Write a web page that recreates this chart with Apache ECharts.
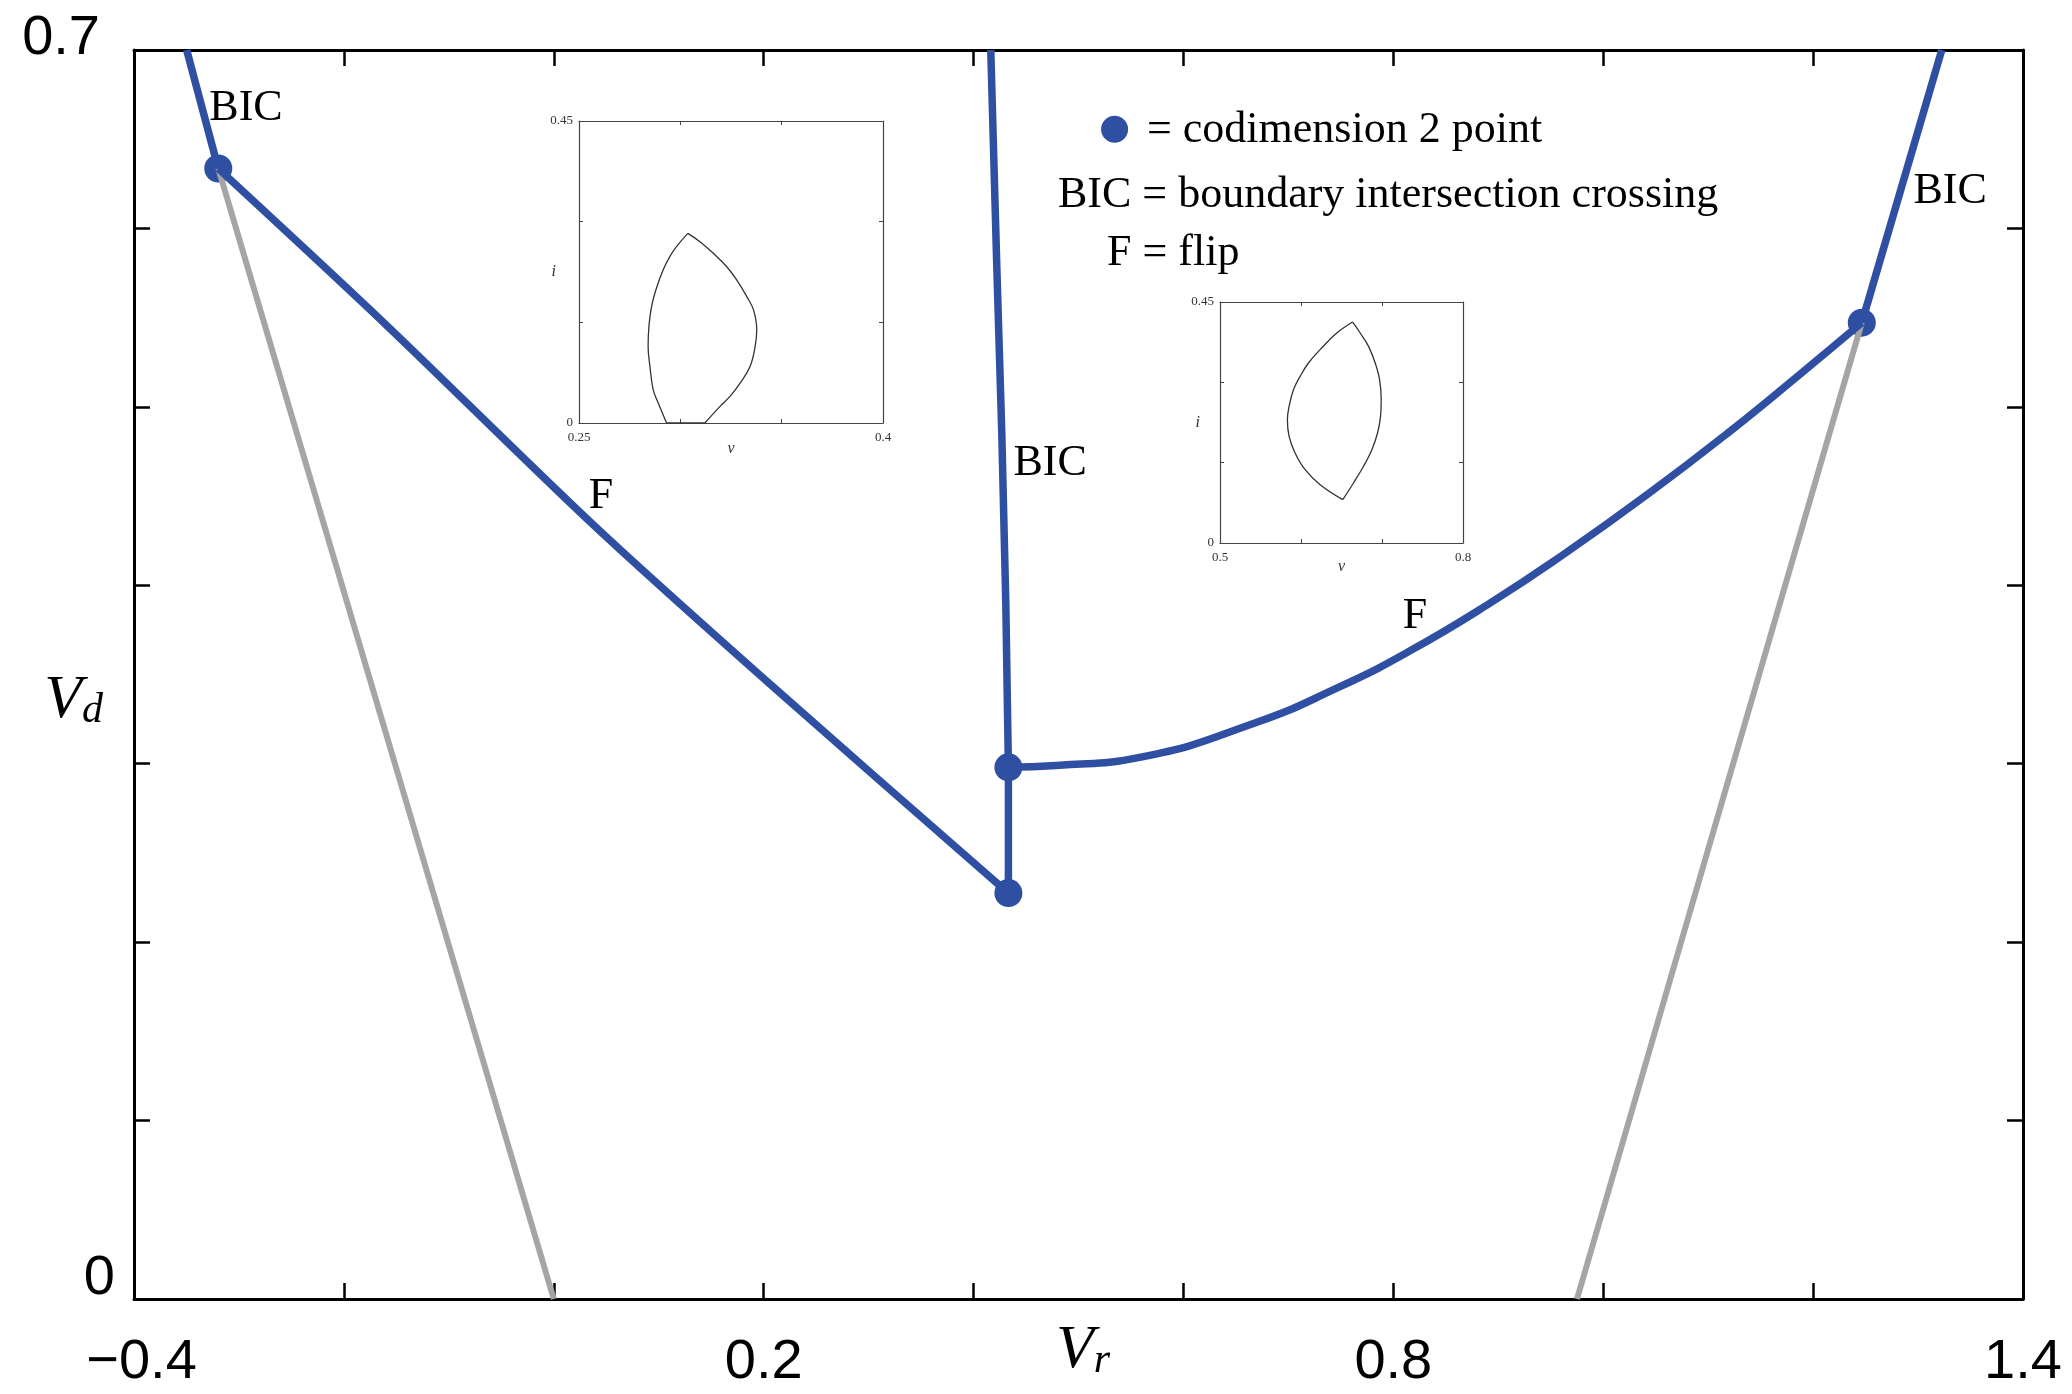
<!DOCTYPE html>
<html>
<head>
<meta charset="utf-8">
<title>Vr - Vd diagram</title>
<script src="https://cdn.jsdelivr.net/npm/echarts@6/dist/echarts.min.js"></script>
<style>
  html, body { margin: 0; padding: 0; background: #fff; }
  #chart { width: 2072px; height: 1394px; }
</style>
</head>
<body>
<div id="chart"></div>
<script>
// curves of the main (Vr, Vd) plane
var leftBic = [[-0.3498, 0.7], [-0.3197, 0.6336]];
var leftFlip = [[-0.3197, 0.6336], [-0.1627, 0.5476], [0.0389, 0.4332], [0.2026, 0.3464], [0.4332, 0.2275]];
var midBic = [[0.4164, 0.7], [0.4221, 0.5797], [0.4269, 0.4853], [0.4307, 0.3907], [0.4332, 0.298], [0.4332, 0.2275]];
var rightFlip = [[0.4332, 0.298], [0.4786, 0.299], [0.5594, 0.3037], [0.6667, 0.3225], [0.7471, 0.3426],
  [0.8142, 0.3627], [0.8921, 0.39], [0.9617, 0.4171], [1.0423, 0.451], [1.1227, 0.4872], [1.1871, 0.5181], [1.2464, 0.5472]];
var rightBic = [[1.2464, 0.5472], [1.3226, 0.7]];
var leftGray = [[-0.3197, 0.6336], [0.0, 0.0]];
var rightGray = [[1.2464, 0.5472], [0.975, 0.0]];
var codim2 = [[-0.3197, 0.6336], [0.4332, 0.2275], [0.4332, 0.298], [1.2464, 0.5472]];

// labels on the curves
var notes = [
  { name: 'BIC', value: [-0.2933, 0.6675] },
  { name: 'BIC', value: [0.4729, 0.4685] },
  { name: 'BIC', value: [1.3305, 0.6206] },
  { name: 'F', value: [0.045, 0.4497] },
  { name: 'F', value: [0.8207, 0.3828] }
];

// inset orbits (v, i), each split at its corners
var orbit1Left = [[0.2932, 0], [0.2891, 0.0297], [0.2866, 0.0496], [0.2850, 0.0843], [0.2841, 0.114], [0.2845, 0.1437],
  [0.2858, 0.1735], [0.2882, 0.2007], [0.2915, 0.228], [0.2948, 0.2478], [0.2981, 0.2627], [0.3037, 0.2825]];
var orbit1Right = [[0.3037, 0.2825], [0.3097, 0.2701], [0.3163, 0.2528], [0.3229, 0.2329], [0.3278, 0.2131], [0.3328, 0.1883],
  [0.3361, 0.1685], [0.3377, 0.1388], [0.3369, 0.114], [0.3344, 0.0843], [0.3295, 0.0595], [0.3245, 0.0396],
  [0.3196, 0.0248], [0.3121, 0]];
var orbit1Base = [[0.3121, 0], [0.2932, 0]];
var orbit2Left = [[0.6636, 0.4127], [0.6442, 0.3921], [0.6236, 0.361], [0.6092, 0.3361], [0.5989, 0.3112], [0.5907, 0.2863],
  [0.5853, 0.2552], [0.5832, 0.2303], [0.5853, 0.1992], [0.5927, 0.1681], [0.6051, 0.1369], [0.6236, 0.1089],
  [0.6516, 0.0809]];
var orbit2Right = [[0.6516, 0.0809], [0.6648, 0.112], [0.6772, 0.1432], [0.6875, 0.1743], [0.6945, 0.2054], [0.6982, 0.2365],
  [0.699, 0.2676], [0.697, 0.305], [0.6916, 0.3361], [0.6834, 0.3672], [0.6731, 0.3921], [0.6636, 0.4127]];

// tick labels
var xTickLabels = [-0.4, 0.2, 0.8, 1.4];
var yTickLabels = [0, 0.7];
var inset1XLabels = [0.25, 0.4];
var inset2XLabels = [0.5, 0.8];
var insetYLabels = [0, 0.45];

var blue = '#2f4fa2';
var gray = '#a5a5a5';
var sans = '"Liberation Sans", Arial, sans-serif';
var serif = '"Liberation Serif", "Times New Roman", serif';

function pick(list, value) {
  for (var i = 0; i < list.length; i++) {
    if (Math.abs(list[i] - value) < 1e-6) return list[i];
  }
  return null;
}

function mainAxis(pos, extra) {
  var ax = {
    type: 'value',
    position: pos,
    gridIndex: 0,
    axisLine: { show: true, onZero: false, lineStyle: { color: '#000', width: 3 } },
    axisTick: { show: true, inside: true, length: 16, lineStyle: { color: '#000', width: 2.5 } },
    axisLabel: { show: false },
    splitLine: { show: false }
  };
  return Object.assign(ax, extra);
}

function insetAxis(grid, pos, extra) {
  var ax = {
    type: 'value',
    position: pos,
    gridIndex: grid,
    axisLine: { show: true, onZero: false, lineStyle: { color: '#444', width: 1.2 } },
    axisTick: { show: true, inside: true, length: 4, lineStyle: { color: '#444', width: 1 } },
    axisLabel: { show: false },
    splitLine: { show: false }
  };
  return Object.assign(ax, extra);
}

function insetLabel(list, margin) {
  return {
    show: true,
    margin: margin,
    fontFamily: serif,
    fontSize: 13,
    color: '#333',
    formatter: function (value) {
      var v = pick(list, value);
      return v === null ? '' : String(v);
    }
  };
}

function insetName(text, gap, isY) {
  return {
    name: text,
    nameLocation: 'middle',
    nameGap: gap,
    nameMoveOverlap: false,
    nameRotate: isY ? 0 : null,
    nameTextStyle: { fontFamily: serif, fontStyle: 'italic', fontSize: 16, color: '#333' }
  };
}

function curve(data, color, width, smooth) {
  return { type: 'line', data: data, showSymbol: false, silent: true, smooth: smooth || false,
    lineStyle: { color: color, width: width } };
}

function orbit(data, axisIndex) {
  return { type: 'line', xAxisIndex: axisIndex, yAxisIndex: axisIndex, data: data, showSymbol: false,
    silent: true, smooth: 0.4, lineStyle: { color: '#333', width: 1.3 } };
}

var nameRich = {
  v: { fontFamily: serif, fontStyle: 'italic', fontSize: 62, lineHeight: 62, fill: '#000', verticalAlign: 'bottom' },
  s: { fontFamily: serif, fontStyle: 'italic', fontSize: 42, lineHeight: 30, fill: '#000', verticalAlign: 'bottom' }
};

var tickFont = { fontFamily: sans, fontSize: 56, lineHeight: 56, color: '#000' };

var chart = echarts.init(document.getElementById('chart'));

var xMain = { min: -0.4, max: 1.4, interval: 0.2 };
var yMain = { min: 0, max: 0.7, interval: 0.1 };

chart.setOption({
  animation: false,
  backgroundColor: '#fff',
  grid: [
    { left: 134, right: 49, top: 50, bottom: 95, outerBoundsMode: 'none' },
    { left: 579, top: 121, width: 304, height: 302, outerBoundsMode: 'none' },
    { left: 1220, top: 302, width: 243, height: 241, outerBoundsMode: 'none' }
  ],
  xAxis: [
    mainAxis('bottom', Object.assign({}, xMain, {
      axisLabel: {
        show: true,
        margin: 37,
        fontFamily: sans,
        fontSize: 56,
        lineHeight: 54,
        color: '#000',
        formatter: function (value) {
          var v = pick(xTickLabels, value);
          if (v === null) return '';
          return v < 0 ? '{n|\u2212' + String(-v) + '}' : String(v);
        },
        rich: {
          n: Object.assign({ padding: [0, 0, 0, 15] }, tickFont, { lineHeight: 54 })
        }
      }
    })),
    mainAxis('top', xMain),
    insetAxis(1, 'bottom', Object.assign({ min: 0.25, max: 0.4, interval: 0.05,
      axisLabel: insetLabel(inset1XLabels, 8) }, insetName('v', 18, false))),
    insetAxis(1, 'top', { min: 0.25, max: 0.4, interval: 0.05 }),
    insetAxis(2, 'bottom', Object.assign({ min: 0.5, max: 0.8, interval: 0.1,
      axisLabel: insetLabel(inset2XLabels, 8) }, insetName('v', 16, false))),
    insetAxis(2, 'top', { min: 0.5, max: 0.8, interval: 0.1 })
  ],
  yAxis: [
    mainAxis('left', Object.assign({}, yMain, {
      axisLabel: {
        show: true,
        margin: 19,
        color: '#000',
        formatter: function (value) {
          var v = pick(yTickLabels, value);
          if (v === null) return '';
          return v === 0 ? '{lo|0}' : '{hi|' + v + '}';
        },
        rich: {
          lo: Object.assign({ padding: [0, 0, 40, 0] }, tickFont),
          hi: Object.assign({ padding: [0, 15, 22, 0] }, tickFont)
        }
      }
    })),
    mainAxis('right', yMain),
    insetAxis(1, 'left', Object.assign({ min: 0, max: 0.45, interval: 0.15,
      axisLabel: insetLabel(insetYLabels, 6) }, insetName('i', 23, true))),
    insetAxis(1, 'right', { min: 0, max: 0.45, interval: 0.15 }),
    insetAxis(2, 'left', Object.assign({ min: 0, max: 0.45, interval: 0.15,
      axisLabel: insetLabel(insetYLabels, 6) }, insetName('i', 20, true))),
    insetAxis(2, 'right', { min: 0, max: 0.45, interval: 0.15 })
  ],
  series: [
    curve(leftGray, gray, 6),
    curve(rightGray, gray, 6),
    curve(leftBic, blue, 7.5),
    curve(leftFlip, blue, 7.5, 0.3),
    curve(midBic, blue, 7.5),
    curve(rightFlip, blue, 7.5, 0.5),
    curve(rightBic, blue, 7.5),
    { type: 'scatter', data: codim2, symbolSize: 28, silent: true, itemStyle: { color: blue, opacity: 1 } },
    {
      type: 'scatter', data: notes, symbolSize: 0, silent: true, itemStyle: { opacity: 1 },
      label: {
        show: true, position: 'inside', formatter: '{b}',
        fontFamily: serif, fontSize: 44, color: '#000', align: 'center', verticalAlign: 'middle'
      }
    },
    orbit(orbit1Left, 2),
    orbit(orbit1Right, 2),
    orbit(orbit1Base, 2),
    orbit(orbit2Left, 4),
    orbit(orbit2Right, 4)
  ],
  graphic: [
    { type: 'text', silent: true, x: 103, y: 701,
      style: { text: '{v|V}{s|d}', rich: nameRich, align: 'right', verticalAlign: 'middle' } },
    { type: 'text', silent: true, x: 1083, y: 1351,
      style: { text: '{v|V}{s|r}', rich: nameRich, align: 'center', verticalAlign: 'middle' } },
    { type: 'circle', silent: true, shape: { cx: 1114.6, cy: 129.3, r: 13.5 }, style: { fill: blue } },
    { type: 'text', silent: true, x: 1147, y: 130,
      style: { text: '= codimension 2 point', fontFamily: serif, fontSize: 44, fill: '#000', align: 'left', verticalAlign: 'middle' } },
    { type: 'text', silent: true, x: 1058, y: 195,
      style: { text: 'BIC = boundary intersection crossing', fontFamily: serif, fontSize: 44, fill: '#000', align: 'left', verticalAlign: 'middle' } },
    { type: 'text', silent: true, x: 1107, y: 253,
      style: { text: 'F = flip', fontFamily: serif, fontSize: 44, fill: '#000', align: 'left', verticalAlign: 'middle' } }
  ]
});

window.onresize = function () {
  chart.resize();
};
</script>
</body>
</html>
